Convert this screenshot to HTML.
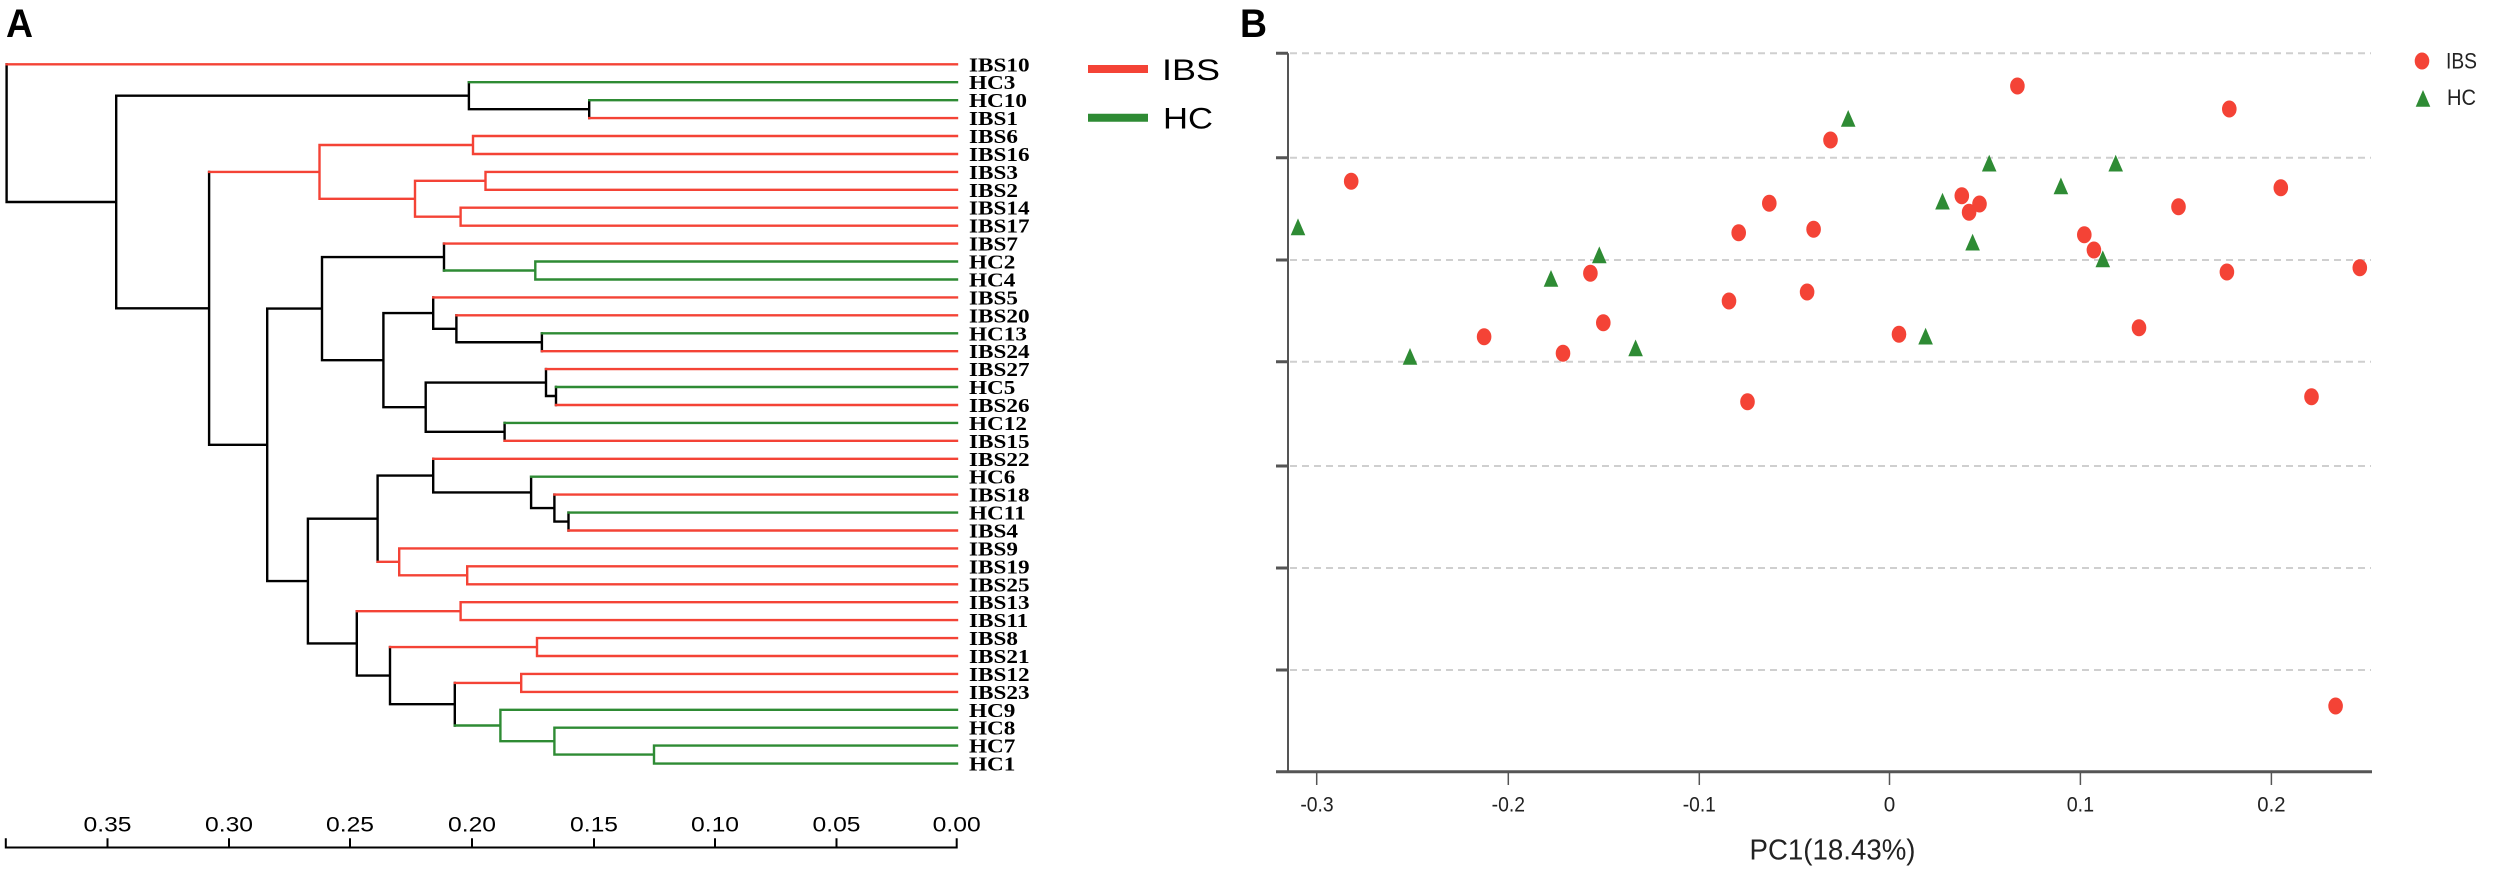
<!DOCTYPE html>
<html><head><meta charset="utf-8"><style>
html,body{margin:0;padding:0;background:#fff;}
svg{display:block;}
</style></head><body>
<svg width="2500" height="871" viewBox="0 0 2500 871" xmlns="http://www.w3.org/2000/svg">
<rect width="2500" height="871" fill="#fff"/>
<!-- Panel labels -->
<text x="6" y="37" font-family="Liberation Sans, sans-serif" font-weight="bold" font-size="40" textLength="27" lengthAdjust="spacingAndGlyphs">A</text>
<text x="1240" y="37" font-family="Liberation Sans, sans-serif" font-weight="bold" font-size="40" textLength="27" lengthAdjust="spacingAndGlyphs">B</text>

<!-- Dendrogram -->
<g fill="none" stroke-width="2.4" stroke-linecap="square">
<path stroke="#000" d="
M6.6 202H116.2 M116.2 95.7H468.9 M468.9 109.15H589.2 M116.2 308.35H209.1 M209.1 444.8H267.2
M267.2 308.6H322 M322 257.05H444 M322 360.15H383.4 M383.4 313.1H433.2 M433.2 328.8H456.4
M456.4 342.25H541.9 M383.4 407.2H425.7 M425.7 382.55H546 M546 396H556 M425.7 431.85H504.6
M267.2 581.05H307.9 M307.9 518.7H377.6 M377.6 475.6H433.2 M433.2 492.4H531.1 M531.1 508.1H554.4
M554.4 521.55H568.5 M307.9 643.4H356.8 M356.8 675.6H390 M390 704.2H454.8
M6.6 64.3V202 M116.2 95.7V308.35 M468.9 82.2V109.15 M589.2 100.2V118.1 M209.1 171.9V444.8
M267.2 308.6V581.05 M322 257.05V360.15 M444 243.6V270.5 M383.4 313.1V407.2 M433.2 297.4V328.8
M456.4 315.3V342.25 M541.9 333.3V351.2 M425.7 382.55V431.85 M546 369.1V396 M556 387V405
M504.6 422.9V440.8 M307.9 518.7V643.4 M377.6 475.6V561.85 M433.2 458.8V492.4 M531.1 476.7V508.1
M554.4 494.6V521.55 M568.5 512.6V530.5 M356.8 611.15V675.6 M390 647.05V704.2 M454.8 682.9V725.5"/>
<path stroke="#F44336" d="
M6.6 64.3H957 M589.2 118.1H957 M473 136H957 M473 154H957 M485.5 171.9H957 M485.5 189.8H957
M460.6 207.7H957 M460.6 225.7H957 M444 243.6H957 M433.2 297.4H957 M456.4 315.3H957 M541.9 351.2H957
M546 369.1H957 M556 405H957 M504.6 440.8H957 M433.2 458.8H957 M554.4 494.6H957 M568.5 530.5H957
M399.2 548.4H957 M467.2 566.3H957 M467.2 584.3H957 M460.6 602.2H957 M460.6 620.1H957
M537 638.1H957 M537 656H957 M521.2 673.9H957 M521.2 691.9H957
M209.1 171.9H319.5 M319.5 145H473 M319.5 198.8H415 M415 180.85H485.5 M415 216.7H460.6
M377.6 561.85H399.2 M399.2 575.3H467.2 M356.8 611.15H460.6 M390 647.05H537 M454.8 682.9H521.2
M319.5 145V198.8 M473 136V154 M415 180.85V216.7 M485.5 171.9V189.8 M460.6 207.7V225.7
M399.2 548.4V575.3 M467.2 566.3V584.3 M460.6 602.2V620.1 M537 638.1V656 M521.2 673.9V691.9"/>
<path stroke="#2E8B34" d="
M468.9 82.2H957 M589.2 100.2H957 M535.3 261.5H957 M535.3 279.5H957 M541.9 333.3H957 M556 387H957
M504.6 422.9H957 M531.1 476.7H957 M568.5 512.6H957 M500.4 709.8H957 M554.4 727.7H957
M654 745.6H957 M654 763.6H957
M444 270.5H535.3 M454.8 725.5H500.4 M500.4 741.15H554.4 M554.4 754.6H654
M535.3 261.5V279.5 M500.4 709.8V741.15 M554.4 727.7V754.6 M654 745.6V763.6"/>
</g>

<!-- Leaf labels -->
<g transform="translate(969,0) scale(1.16,1)" font-family="Liberation Serif, serif" font-weight="bold" font-size="20" fill="#000">
<text y="71.3">IBS10</text><text y="89.2">HC3</text><text y="107.2">HC10</text><text y="125.1">IBS1</text>
<text y="143">IBS6</text><text y="161">IBS16</text><text y="178.9">IBS3</text><text y="196.8">IBS2</text>
<text y="214.7">IBS14</text><text y="232.7">IBS17</text><text y="250.6">IBS7</text><text y="268.5">HC2</text>
<text y="286.5">HC4</text><text y="304.4">IBS5</text><text y="322.3">IBS20</text><text y="340.3">HC13</text>
<text y="358.2">IBS24</text><text y="376.1">IBS27</text><text y="394">HC5</text><text y="412">IBS26</text>
<text y="429.9">HC12</text><text y="447.8">IBS15</text><text y="465.8">IBS22</text><text y="483.7">HC6</text>
<text y="501.6">IBS18</text><text y="519.6">HC11</text><text y="537.5">IBS4</text><text y="555.4">IBS9</text>
<text y="573.3">IBS19</text><text y="591.3">IBS25</text><text y="609.2">IBS13</text><text y="627.1">IBS11</text>
<text y="645.1">IBS8</text><text y="663">IBS21</text><text y="680.9">IBS12</text><text y="698.9">IBS23</text>
<text y="716.8">HC9</text><text y="734.7">HC8</text><text y="752.6">HC7</text><text y="770.6">HC1</text>
</g>

<!-- Dendrogram axis -->
<g stroke="#000" stroke-width="2" fill="none">
<path d="M5.8 847.5H957.5 M5.8 838.3V848.5 M107.5 838.3V848.5 M229 838.3V848.5 M350 838.3V848.5 M472 838.3V848.5 M594 838.3V848.5 M715 838.3V848.5 M836.5 838.3V848.5 M956.7 838.3V848.5"/>
</g>
<g font-family="Liberation Sans, sans-serif" font-size="21" text-anchor="middle" fill="#000">
<text x="107.5" y="831.7" textLength="48" lengthAdjust="spacingAndGlyphs">0.35</text>
<text x="229" y="831.7" textLength="48" lengthAdjust="spacingAndGlyphs">0.30</text>
<text x="350" y="831.7" textLength="48" lengthAdjust="spacingAndGlyphs">0.25</text>
<text x="472" y="831.7" textLength="48" lengthAdjust="spacingAndGlyphs">0.20</text>
<text x="594" y="831.7" textLength="48" lengthAdjust="spacingAndGlyphs">0.15</text>
<text x="715" y="831.7" textLength="48" lengthAdjust="spacingAndGlyphs">0.10</text>
<text x="836.5" y="831.7" textLength="48" lengthAdjust="spacingAndGlyphs">0.05</text>
<text x="956.7" y="831.7" textLength="48" lengthAdjust="spacingAndGlyphs">0.00</text>
</g>

<!-- Legend A -->
<line x1="1088" y1="69" x2="1148" y2="69" stroke="#F44336" stroke-width="8"/>
<line x1="1088" y1="117.7" x2="1148" y2="117.7" stroke="#2E8B34" stroke-width="8"/>
<text x="1162" y="80" font-family="Liberation Sans, sans-serif" font-size="30" textLength="58" lengthAdjust="spacingAndGlyphs">IBS</text>
<text x="1163" y="128.3" font-family="Liberation Sans, sans-serif" font-size="30" textLength="50" lengthAdjust="spacingAndGlyphs">HC</text>

<!-- Panel B grid -->
<g stroke="#cfcfcf" stroke-width="2" stroke-dasharray="7,5">
<path d="M1290 53.3H2371 M1290 157.7H2371 M1290 260H2371 M1290 361.7H2371 M1290 466H2371 M1290 568H2371 M1290 670H2371"/>
</g>
<g stroke="#555" fill="none">
<path stroke-width="2" d="M1288 53.3V771.7"/>
<path stroke-width="3" d="M1276 53.3H1288 M1276 157.7H1288 M1276 260H1288 M1276 361.7H1288 M1276 466H1288 M1276 568H1288 M1276 670H1288"/>
<path stroke-width="3" d="M1276 771.7H2372"/>
<path stroke-width="1.5" d="M1316.7 771.7V785 M1508.3 771.7V785 M1699.3 771.7V785 M1889.5 771.7V785 M2080.4 771.7V785 M2271.4 771.7V785"/>
</g>
<g font-family="Liberation Sans, sans-serif" font-size="21" text-anchor="middle" fill="#222">
<text x="1317" y="811.7" textLength="33.3" lengthAdjust="spacingAndGlyphs">-0.3</text>
<text x="1508.3" y="811.7" textLength="33.3" lengthAdjust="spacingAndGlyphs">-0.2</text>
<text x="1699.3" y="811.7" textLength="33" lengthAdjust="spacingAndGlyphs">-0.1</text>
<text x="1889.5" y="811.7" textLength="11.5" lengthAdjust="spacingAndGlyphs">0</text>
<text x="2080.4" y="811.7" textLength="27.4" lengthAdjust="spacingAndGlyphs">0.1</text>
<text x="2271.4" y="811.7" textLength="28.2" lengthAdjust="spacingAndGlyphs">0.2</text>
</g>
<text x="1832.5" y="859.5" font-family="Liberation Sans, sans-serif" font-size="29" text-anchor="middle" fill="#222" textLength="166" lengthAdjust="spacingAndGlyphs">PC1(18.43%)</text>

<!-- Points -->
<g fill="#F44336">
<ellipse cx="2017.4" cy="86" rx="7.3" ry="8.5"/>
<ellipse cx="2229.3" cy="109" rx="7.3" ry="8.5"/>
<ellipse cx="1830.5" cy="140" rx="7.3" ry="8.5"/>
<ellipse cx="1351.2" cy="181.3" rx="7.3" ry="8.5"/>
<ellipse cx="2280.8" cy="187.7" rx="7.3" ry="8.5"/>
<ellipse cx="1769.3" cy="203.3" rx="7.3" ry="8.5"/>
<ellipse cx="1961.8" cy="195.7" rx="7.3" ry="8.5"/>
<ellipse cx="1979.5" cy="204" rx="7.3" ry="8.5"/>
<ellipse cx="1969.1" cy="212.3" rx="7.3" ry="8.5"/>
<ellipse cx="2178.5" cy="206.7" rx="7.3" ry="8.5"/>
<ellipse cx="1738.7" cy="232.7" rx="7.3" ry="8.5"/>
<ellipse cx="1813.6" cy="229.3" rx="7.3" ry="8.5"/>
<ellipse cx="2084.3" cy="234.7" rx="7.3" ry="8.5"/>
<ellipse cx="2093.9" cy="250" rx="7.3" ry="8.5"/>
<ellipse cx="1590.4" cy="273.3" rx="7.3" ry="8.5"/>
<ellipse cx="2226.9" cy="272" rx="7.3" ry="8.5"/>
<ellipse cx="2359.8" cy="267.7" rx="7.3" ry="8.5"/>
<ellipse cx="1807.1" cy="292" rx="7.3" ry="8.5"/>
<ellipse cx="1729" cy="301" rx="7.3" ry="8.5"/>
<ellipse cx="1603.3" cy="322.7" rx="7.3" ry="8.5"/>
<ellipse cx="1484.1" cy="336.7" rx="7.3" ry="8.5"/>
<ellipse cx="1899" cy="334.3" rx="7.3" ry="8.5"/>
<ellipse cx="2139" cy="327.7" rx="7.3" ry="8.5"/>
<ellipse cx="1563" cy="353.3" rx="7.3" ry="8.5"/>
<ellipse cx="1747.5" cy="401.7" rx="7.3" ry="8.5"/>
<ellipse cx="2311.5" cy="396.7" rx="7.3" ry="8.5"/>
<ellipse cx="2335.6" cy="706" rx="7.3" ry="8.5"/>
</g>
<g fill="#2E8B34">
<path d="M1848.2 110 L1855.5 126.8 L1840.9 126.8 Z"/>
<path d="M1989.2 154.7 L1996.5 171.5 L1981.9 171.5 Z"/>
<path d="M2115.7 154.7 L2123 171.5 L2108.4 171.5 Z"/>
<path d="M2060.9 177.5 L2068.2 194.3 L2053.6 194.3 Z"/>
<path d="M1942.5 192.7 L1949.8 209.5 L1935.2 209.5 Z"/>
<path d="M1298 218.4 L1305.3 235.2 L1290.7 235.2 Z"/>
<path d="M1972.6 233.7 L1979.9 250.5 L1965.3 250.5 Z"/>
<path d="M1599.3 246.4 L1606.6 263.2 L1592 263.2 Z"/>
<path d="M2102.8 250.4 L2110.1 267.2 L2095.5 267.2 Z"/>
<path d="M1551 270 L1558.3 286.8 L1543.7 286.8 Z"/>
<path d="M1925.6 327.7 L1932.9 344.5 L1918.3 344.5 Z"/>
<path d="M1635.6 339.5 L1642.9 356.3 L1628.3 356.3 Z"/>
<path d="M1410 348 L1417.3 364.8 L1402.7 364.8 Z"/>
</g>

<!-- Legend B -->
<ellipse cx="2422" cy="61" rx="7.3" ry="8.5" fill="#F44336"/>
<path d="M2423 90 L2430.3 106.8 L2415.7 106.8 Z" fill="#2E8B34"/>
<text x="2446" y="68.3" font-family="Liberation Sans, sans-serif" font-size="22" fill="#222" textLength="31" lengthAdjust="spacingAndGlyphs">IBS</text>
<text x="2447" y="105" font-family="Liberation Sans, sans-serif" font-size="22" fill="#222" textLength="29" lengthAdjust="spacingAndGlyphs">HC</text>
</svg>
</body></html>
